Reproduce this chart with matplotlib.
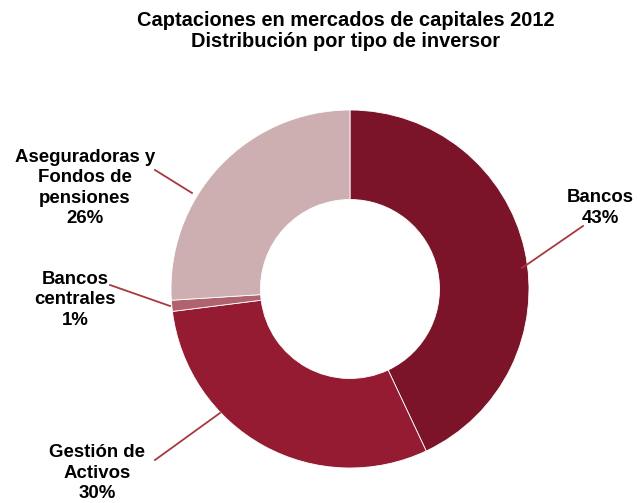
import matplotlib
matplotlib.use("Agg")
import matplotlib.pyplot as plt

categories = ["Bancos", "Gestión de\nActivos", "Bancos\ncentrales", "Aseguradoras y\nFondos de\npensiones"]
values = [43, 30, 1, 26]
colors = ["#7B1428", "#951B32", "#B0636E", "#CDAEB1"]
title = "Captaciones en mercados de capitales 2012\nDistribución por tipo de inversor"

W, H = 643, 503
fig = plt.figure(figsize=(W / 100, H / 100), dpi=100)
ax = fig.add_axes([0, 0, 1, 1])

cx, cy, R = 350, H - 289, 179
ax.pie(values, colors=colors, startangle=90, counterclock=False,
       center=(cx, cy), radius=R,
       wedgeprops=dict(width=R * 0.5, edgecolor="white", linewidth=0.6))
ax.set_xlim(0, W)
ax.set_ylim(0, H)
ax.set_aspect("equal")
ax.axis("off")

font = dict(family="Liberation Sans", fontweight="bold", fontsize=13.4, color="black")
fig.text(0.537, 1 - 31 / H, title, ha="center", va="center", linespacing=1.15,
         family="Liberation Sans", fontweight="bold", fontsize=14.4)

# label layout (pixel positions) : text center, line start (on wedge), line end
layout = [
    ((600, 208), (522, 268), (583, 226)),
    ((97, 473), (220, 413), (155, 460)),
    ((75, 300), (170, 306), (110, 285)),
    ((85, 188), (192, 193), (155, 170)),
]
for cat, v, (tp, ls, le) in zip(categories, values, layout):
    ax.plot([ls[0], le[0]], [H - ls[1], H - le[1]], color="#A8383F", lw=1.3)
    ax.text(tp[0], H - tp[1], f"{cat}\n{v}%", ha="center", va="center",
            linespacing=1.26, **font)

fig.savefig("out.png", dpi=100)
